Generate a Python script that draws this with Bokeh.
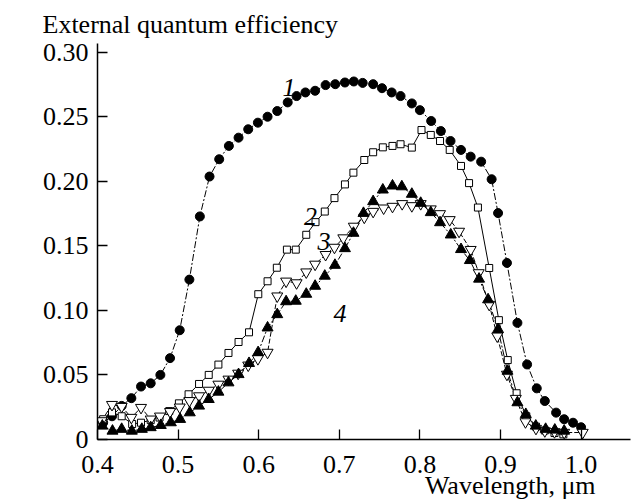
from bokeh.plotting import figure
from bokeh.models import Range1d, FixedTicker, NumeralTickFormatter, Label
from bokeh.embed import file_html
from bokeh.resources import INLINE

# ---- data ----
wl1 = [0.407, 0.418, 0.430, 0.442, 0.454, 0.466, 0.478, 0.490, 0.502, 0.514,
       0.527, 0.539, 0.551, 0.563, 0.575, 0.587, 0.599, 0.611, 0.623, 0.636,
       0.647, 0.658, 0.670, 0.683, 0.695, 0.707, 0.718, 0.729, 0.742, 0.753,
       0.765, 0.776, 0.790, 0.800, 0.814, 0.826, 0.838, 0.851, 0.863, 0.876,
       0.889, 0.897, 0.908, 0.921, 0.933, 0.945, 0.955, 0.969, 0.979, 0.990, 1.000]
eqe1 = [0.013, 0.018, 0.026, 0.032, 0.041, 0.0435, 0.050, 0.063, 0.0846, 0.1238,
        0.1727, 0.2036, 0.217, 0.2273, 0.2337, 0.2402, 0.2453, 0.2499, 0.2543, 0.261,
        0.2659, 0.2687, 0.270, 0.2744, 0.2751, 0.2764, 0.2772, 0.2761, 0.2751, 0.272,
        0.2687, 0.2659, 0.2602, 0.255, 0.2466, 0.2388, 0.2311, 0.2242, 0.219, 0.2151,
        0.2015, 0.1753, 0.1367, 0.0903, 0.0581, 0.0396, 0.0298, 0.0208, 0.0157, 0.013, 0.0095]

wl2 = [0.407, 0.418, 0.430, 0.443, 0.454, 0.466, 0.477, 0.489, 0.501, 0.513,
       0.526, 0.538, 0.550, 0.5625, 0.575, 0.588, 0.5995, 0.611, 0.6225, 0.635,
       0.646, 0.659, 0.6705, 0.682, 0.694, 0.707, 0.7175, 0.731, 0.742, 0.754,
       0.766, 0.776, 0.790, 0.802, 0.8135, 0.825, 0.837, 0.851, 0.861, 0.872,
       0.886, 0.898, 0.909, 0.920, 0.932, 0.944, 0.955, 0.967, 0.978]
eqe2 = [0.0157, 0.021, 0.018, 0.012, 0.013, 0.015, 0.017, 0.022, 0.028, 0.035,
        0.043, 0.050, 0.058, 0.067, 0.0755, 0.083, 0.1125, 0.1225, 0.133, 0.147,
        0.147, 0.1585, 0.1683, 0.1765, 0.1869, 0.1975, 0.2066, 0.2164, 0.2224, 0.2262,
        0.2273, 0.2286, 0.226, 0.2396, 0.2358, 0.2311, 0.2242, 0.2118, 0.1985, 0.1796,
        0.1328, 0.0924, 0.0615, 0.0358, 0.018, 0.010, 0.007, 0.005, 0.004]

wl3 = [0.405, 0.418, 0.430, 0.442, 0.454, 0.466, 0.4775, 0.490, 0.502, 0.514,
       0.526, 0.538, 0.550, 0.5625, 0.5745, 0.587, 0.599, 0.611, 0.623, 0.634,
       0.647, 0.659, 0.670, 0.683, 0.694, 0.705, 0.718, 0.731, 0.742, 0.755,
       0.766, 0.778, 0.790, 0.801, 0.8135, 0.825, 0.837, 0.8486, 0.863, 0.873,
       0.886, 0.896, 0.908, 0.919, 0.931, 0.944, 0.955, 0.967, 0.979, 1.002]
eqe3 = [0.0144, 0.027, 0.0255, 0.017, 0.0247, 0.0157, 0.018, 0.0215, 0.025, 0.030,
        0.0337, 0.038, 0.0427, 0.0466, 0.0512, 0.0575, 0.0625, 0.0674, 0.111, 0.1225,
        0.1212, 0.1296, 0.1356, 0.1431, 0.1487, 0.156, 0.165, 0.172, 0.1765, 0.1791,
        0.1804, 0.1825, 0.1809, 0.1825, 0.1784, 0.1747, 0.1701, 0.1611, 0.147, 0.129,
        0.1045, 0.080, 0.0504, 0.0317, 0.0136, 0.0085, 0.0066, 0.0059, 0.0054, 0.0054]

wl4 = [0.406, 0.4186, 0.430, 0.4426, 0.455, 0.466, 0.4785, 0.491, 0.5025, 0.5145,
       0.526, 0.538, 0.550, 0.5625, 0.575, 0.588, 0.5993, 0.611, 0.623, 0.634,
       0.646, 0.659, 0.670, 0.682, 0.6946, 0.707, 0.7176, 0.730, 0.742, 0.754,
       0.766, 0.7776, 0.790, 0.801, 0.8135, 0.825, 0.8383, 0.851, 0.862, 0.8734,
       0.8846, 0.897, 0.9087, 0.921, 0.9314, 0.9438, 0.956, 0.9674, 0.979]
eqe4 = [0.0105, 0.0066, 0.008, 0.0066, 0.008, 0.0093, 0.011, 0.0131, 0.0157, 0.0208,
        0.026, 0.0311, 0.0368, 0.044, 0.0504, 0.059, 0.0674, 0.0865, 0.0968, 0.1068,
        0.1072, 0.1126, 0.1188, 0.1266, 0.135, 0.1479, 0.1598, 0.1752, 0.1843, 0.1933,
        0.1964, 0.1958, 0.190, 0.183, 0.1758, 0.168, 0.1585, 0.1472, 0.1387, 0.1243,
        0.1083, 0.0852, 0.053, 0.0286, 0.0195, 0.0105, 0.008, 0.0074, 0.0066]

x_ticks = [0.4, 0.5, 0.6, 0.7, 0.8, 0.9, 1.0]
y_ticks = [0.0, 0.05, 0.10, 0.15, 0.20, 0.25, 0.30]
curve_names = ["1", "2", "3", "4"]
name_x = [0.6295, 0.6563, 0.673, 0.6928]
name_y = [0.2723, 0.1727, 0.1534, 0.0975]
title_text = "External quantum efficiency"
xlabel_text = "Wavelength, \u03bcm"
# the axis label is centred under the frame; non-breaking spaces in front
# push the visible words to the right-hand side, as in the reference
xlabel_pad = "\u00a0" * 45

FONT = "Liberation Serif"

p = figure(width=631, height=502,
           min_border_left=97, min_border_right=1,
           min_border_top=43, min_border_bottom=62,
           x_range=Range1d(0.4, 1.0613), y_range=Range1d(0.0, 0.3066),
           output_backend="svg", toolbar_location=None)
p.outline_line_color = None
p.xgrid.visible = False
p.ygrid.visible = False
p.background_fill_color = "white"
p.border_fill_color = "white"

p.title.text = title_text
p.title.align = "left"
p.title.offset = -55
p.title.standoff = 9
p.title.text_font = FONT
p.title.text_font_size = "26px"
p.title.text_font_style = "normal"
p.title.text_color = "black"

for ax in (p.xaxis[0], p.yaxis[0]):
    ax.axis_line_width = 1.5
    ax.axis_line_color = "black"
    ax.major_tick_line_width = 1.3
    ax.major_tick_line_color = "black"
    ax.major_tick_in = 10
    ax.major_tick_out = 0
    ax.minor_tick_line_color = None
    ax.major_label_text_font = FONT
    ax.major_label_text_font_size = "26px"
    ax.major_label_text_color = "black"

p.xaxis.ticker = FixedTicker(ticks=x_ticks)
p.xaxis.formatter = NumeralTickFormatter(format="0.0")
p.xaxis.major_label_standoff = 16
p.xaxis.axis_label = xlabel_pad + xlabel_text
p.xaxis.axis_label_standoff = -5
p.xaxis.axis_label_text_font = FONT
p.xaxis.axis_label_text_font_size = "26px"
p.xaxis.axis_label_text_font_style = "normal"
p.xaxis.axis_label_text_color = "black"

p.yaxis.ticker = FixedTicker(ticks=y_ticks)
p.yaxis.formatter = NumeralTickFormatter(format="0.00")
p.yaxis.major_label_overrides = {0: "0"}
p.yaxis.major_label_standoff = 9

# curves
p.line(wl1, eqe1, line_color="black", line_width=1, line_dash="7 2 2 2")
p.line(wl2, eqe2, line_color="black", line_width=1)
p.line(wl3, eqe3, line_color="black", line_width=1, line_dash="5 2")
p.line(wl4, eqe4, line_color="black", line_width=1, line_dash="7 2 2 2")

p.scatter(wl1, eqe1, marker="circle", size=9, fill_color="black", line_color="black")
p.scatter(wl2, eqe2, marker="square", size=7, fill_color="white", line_color="black", line_width=1)
p.scatter(wl3, eqe3, marker="inverted_triangle", size=11, fill_color="white", line_color="black", line_width=1)
p.scatter(wl4, eqe4, marker="triangle", size=11, fill_color="black", line_color="black")

for name, xx, yy in zip(curve_names, name_x, name_y):
    p.add_layout(Label(x=xx, y=yy, text=name, text_font=FONT, text_font_size="26px",
                       text_font_style="italic", text_align="left",
                       text_baseline="alphabetic", text_color="black"))

open("out.html", "w").write(file_html(p, INLINE))
